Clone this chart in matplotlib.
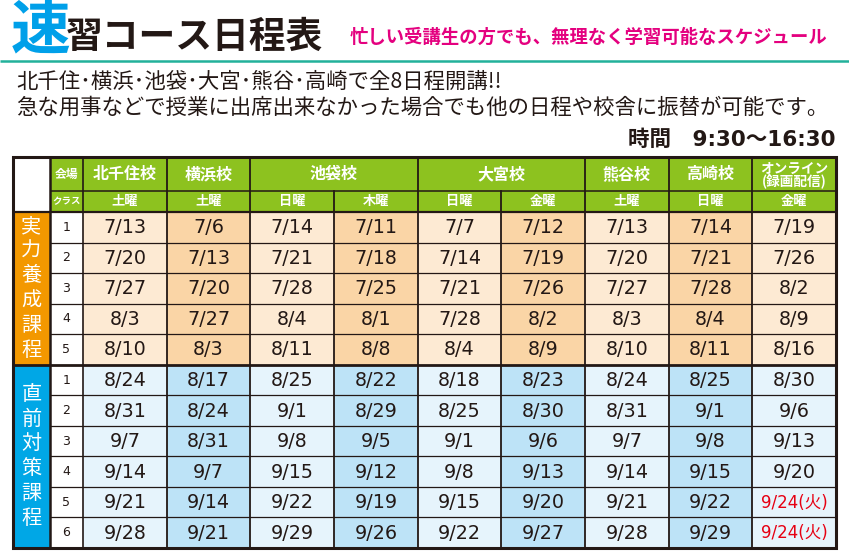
import matplotlib
matplotlib.use("Agg")
import matplotlib.pyplot as plt
from matplotlib.patches import Rectangle

plt.rcParams['font.family'] = ['Noto Sans CJK JP', 'DejaVu Sans']

# ---- data ----
title_head = "速"
title_rest = "習コース日程表"
subtitle = "忙しい受講生の方でも、無理なく学習可能なスケジュール"
intro_lines = ["北千住･横浜･池袋･大宮･熊谷･高崎で全8日程開講!!",
               "急な用事などで授業に出席出来なかった場合でも他の日程や校舎に振替が可能です。"]
time_label = "時間　9:30～16:30"

venues = ["北千住校", "横浜校", "池袋校", "大宮校", "熊谷校", "高崎校", "オンライン\n(録画配信)"]
venue_span = [1, 1, 2, 2, 1, 1, 1]
weekdays = ["土曜", "土曜", "日曜", "木曜", "日曜", "金曜", "土曜", "日曜", "金曜"]
course_names = ["実力養成課程", "直前対策課程"]

basic_dates = [
    ["7/13", "7/6", "7/14", "7/11", "7/7", "7/12", "7/13", "7/14", "7/19"],
    ["7/20", "7/13", "7/21", "7/18", "7/14", "7/19", "7/20", "7/21", "7/26"],
    ["7/27", "7/20", "7/28", "7/25", "7/21", "7/26", "7/27", "7/28", "8/2"],
    ["8/3", "7/27", "8/4", "8/1", "7/28", "8/2", "8/3", "8/4", "8/9"],
    ["8/10", "8/3", "8/11", "8/8", "8/4", "8/9", "8/10", "8/11", "8/16"],
]
final_dates = [
    ["8/24", "8/17", "8/25", "8/22", "8/18", "8/23", "8/24", "8/25", "8/30"],
    ["8/31", "8/24", "9/1", "8/29", "8/25", "8/30", "8/31", "9/1", "9/6"],
    ["9/7", "8/31", "9/8", "9/5", "9/1", "9/6", "9/7", "9/8", "9/13"],
    ["9/14", "9/7", "9/15", "9/12", "9/8", "9/13", "9/14", "9/15", "9/20"],
    ["9/21", "9/14", "9/22", "9/19", "9/15", "9/20", "9/21", "9/22", "9/24(火)"],
    ["9/28", "9/21", "9/29", "9/26", "9/22", "9/27", "9/28", "9/29", "9/24(火)"],
]

# ---- colours ----
INK = "#231815"
GREEN = "#8DC21F"
ORANGE = "#F39800"
BLUE = "#00A7E6"
CYAN = "#00A0E9"
MAGENTA = "#E4007F"
TEAL = "#22B19B"
RED = "#E60012"
orange_cells = ["#FDEAD3", "#FAD5A6"]
blue_cells = ["#E6F4FC", "#BDE3F7"]
WIDE = ['DejaVu Sans', 'Noto Sans CJK JP']

# ---- layout (pixels) ----
left, right = 13, 836
top = 157
label_w, num_w = 37, 33
h1, h2 = 34, 21
n_cols = len(weekdays)
data_left = left + label_w + num_w
data_w = (right - data_left) / n_cols
body_top = top + h1 + h2
n_rows = len(basic_dates) + len(final_dates)
row_h = (548 - body_top) / n_rows
bottom = body_top + row_h * n_rows

fig = plt.figure(figsize=(8.49, 5.57), dpi=100)
ax = fig.add_axes([0, 0, 1, 1])
ax.set_xlim(0, 849)
ax.set_ylim(557, 0)
ax.axis("off")

# ---- heading ----
ax.text(11, 31, title_head, fontsize=43, fontweight="bold", color=CYAN, va="center", ha="left")
ax.text(66, 37, title_rest, fontsize=26.5, fontweight="bold", color=INK, va="center", ha="left")
ax.text(827, 37, subtitle, fontsize=13.2, fontweight="bold", color=MAGENTA, va="center", ha="right")
ax.plot([0, 849], [61, 61], color=TEAL, lw=1.8, solid_capstyle="butt")
for i, line in enumerate(intro_lines):
    ax.text(16, 82 + i * 26, line, fontsize=15.4, color=INK, va="center", ha="left")
ax.text(836, 140, time_label, fontsize=15.5, fontweight="bold", color=INK, va="center",
        ha="right", family=WIDE)

# ---- header cells ----
ax.add_patch(Rectangle((left + label_w, top), right - left - label_w, h1 + h2, color=GREEN, lw=0))
ax.text(left + label_w + num_w / 2, top + h1 / 2, "会場", fontsize=8.5, fontweight="bold",
        color="white", ha="center", va="center")
ax.text(left + label_w + num_w / 2, top + h1 + h2 / 2, "クラス", fontsize=6.8, fontweight="bold",
        color="white", ha="center", va="center")
col = 0
venue_edges = [0]
for name, span in zip(venues, venue_span):
    cx = data_left + (col + span / 2) * data_w
    multi = "\n" in name
    ax.text(cx, top + h1 / 2 + (1 if multi else 0), name, fontsize=9.8 if multi else 11.5,
            fontweight="bold", color="white", ha="center", va="center", linespacing=0.85)
    col += span
    venue_edges.append(col)
for j, day in enumerate(weekdays):
    ax.text(data_left + (j + 0.5) * data_w, top + h1 + h2 / 2, day, fontsize=9.5,
            fontweight="bold", color="white", ha="center", va="center")

# ---- body cells ----
sections = [(basic_dates, orange_cells, ORANGE), (final_dates, blue_cells, BLUE)]
r0 = 0
for (dates, shades, label_color), cname in zip(sections, course_names):
    sy = body_top + r0 * row_h
    sh = len(dates) * row_h
    ax.add_patch(Rectangle((left, sy), label_w, sh, color=label_color, lw=0))
    ax.add_patch(Rectangle((left + label_w, sy), num_w, sh, color="white", lw=0))
    mid = sy + sh / 2
    for k, ch in enumerate(cname):
        ax.text(left + label_w / 2, mid + (k - (len(cname) - 1) / 2) * 24.8, ch,
                fontsize=14.5, color="white", ha="center", va="center")
    for i, row in enumerate(dates):
        y = body_top + (r0 + i) * row_h
        ax.text(left + label_w + num_w / 2, y + row_h / 2, str(i + 1), fontsize=9,
                color=INK, ha="center", va="center", family=WIDE)
        for j, val in enumerate(row):
            ax.add_patch(Rectangle((data_left + j * data_w, y), data_w, row_h,
                                   color=shades[j % 2], lw=0))
            red = "(" in val
            ax.text(data_left + (j + 0.5) * data_w, y + row_h / 2 + 0.5, val,
                    fontsize=12 if red else 13.8, color=RED if red else INK,
                    ha="center", va="center", family=WIDE)
        if i > 0:
            ax.plot([left + label_w, right], [y, y], color=INK, lw=0.9, solid_capstyle="butt")
    r0 += len(dates)

# ---- grid lines ----
ax.plot([left + label_w, right], [top + h1, top + h1], color=INK, lw=1.1, solid_capstyle="butt")
ax.plot([left, right], [body_top, body_top], color=INK, lw=1.6, solid_capstyle="butt")
split = body_top + len(basic_dates) * row_h
ax.plot([left, right], [split, split], color=INK, lw=2.0, solid_capstyle="butt")
ax.plot([left + label_w] * 2, [top, bottom], color=INK, lw=1.8)
ax.plot([data_left] * 2, [top, bottom], color=INK, lw=1.2)
for j in range(1, n_cols):
    x = data_left + j * data_w
    y_start = top if j in venue_edges else top + h1
    ax.plot([x, x], [y_start, bottom], color=INK, lw=1.3)
ax.add_patch(Rectangle((left, top), right - left, bottom - top, fill=False,
                       edgecolor=INK, lw=2.2))

fig.savefig("out.png", dpi=100)
